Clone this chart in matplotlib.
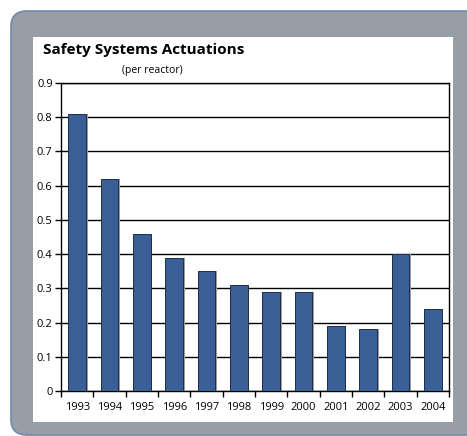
import matplotlib
matplotlib.use("Agg")
import matplotlib.pyplot as plt
from matplotlib.patches import FancyBboxPatch, Rectangle
import numpy as np

years = ["1993", "1994", "1995", "1996", "1997", "1998",
         "1999", "2000", "2001", "2002", "2003", "2004"]
actuations = [0.81, 0.62, 0.46, 0.39, 0.35, 0.31, 0.29, 0.29, 0.19, 0.18, 0.40, 0.24]
yticks = [0, 0.1, 0.2, 0.3, 0.4, 0.5, 0.6, 0.7, 0.8, 0.9]

plt.rcParams['font.family'] = ['Open Sans', 'DejaVu Sans']

W, H = 467, 436
fig = plt.figure(figsize=(W / 100, H / 100), dpi=100)
fig.patch.set_facecolor("white")

# grey rounded background with a bluish edge
bg = FancyBboxPatch((11 / W, 1 / H), 470 / W, 424 / H,
                    boxstyle="round,pad=0,rounding_size=0.035",
                    transform=fig.transFigure, facecolor="#979ea6",
                    edgecolor="#6f88ae", linewidth=1.2, zorder=0)
fig.patches.append(bg)
# white inner panel
panel = Rectangle((33 / W, 14 / H), 420 / W, 385 / H,
                  transform=fig.transFigure, facecolor="white",
                  edgecolor="none", zorder=1)
fig.patches.append(panel)

ax = fig.add_axes([61 / W, 45 / H, 388 / W, 308 / H])
ax.set_zorder(2)
ax.set_facecolor("white")

x = np.arange(len(years))
# soft shadow then bars
ax.bar(x + 0.05, actuations, width=0.55, color="#9a9ea4", zorder=2)
ax.bar(x, actuations, width=0.55, color="#3a5e96", edgecolor="#1e2d48",
       linewidth=0.7, zorder=3)

ax.set_ylim(0, 0.9)
ax.set_xlim(-0.5, len(years) - 0.5)
ax.set_yticks(yticks)
ax.set_yticklabels(["0"] + [f"{v:.1f}" for v in yticks[1:]], fontsize=8)
ax.yaxis.grid(True, color="black", linewidth=1.0)
ax.set_axisbelow(True)

ax.set_xticks(np.arange(len(years) + 1) - 0.5)
ax.set_xticklabels([])
ax.set_xticks(x, minor=True)
ax.set_xticklabels(years, minor=True, fontsize=8)
ax.tick_params(axis="x", which="minor", length=0, pad=8)
ax.tick_params(axis="x", which="major", length=4, width=1, direction="out")
ax.tick_params(axis="y", length=4, width=1, direction="out", pad=2)

for s in ax.spines.values():
    s.set_color("black")
    s.set_linewidth(1.0)

fig.text(43 / W, 1 - 50 / H, "Safety Systems Actuations", fontsize=11,
         fontweight="bold", va="center", ha="left", zorder=5)
fig.text(152 / W, 1 - 71 / H, "(per reactor)", fontsize=7.5, va="center",
         ha="center", zorder=5)

fig.savefig("out.png", dpi=100)
